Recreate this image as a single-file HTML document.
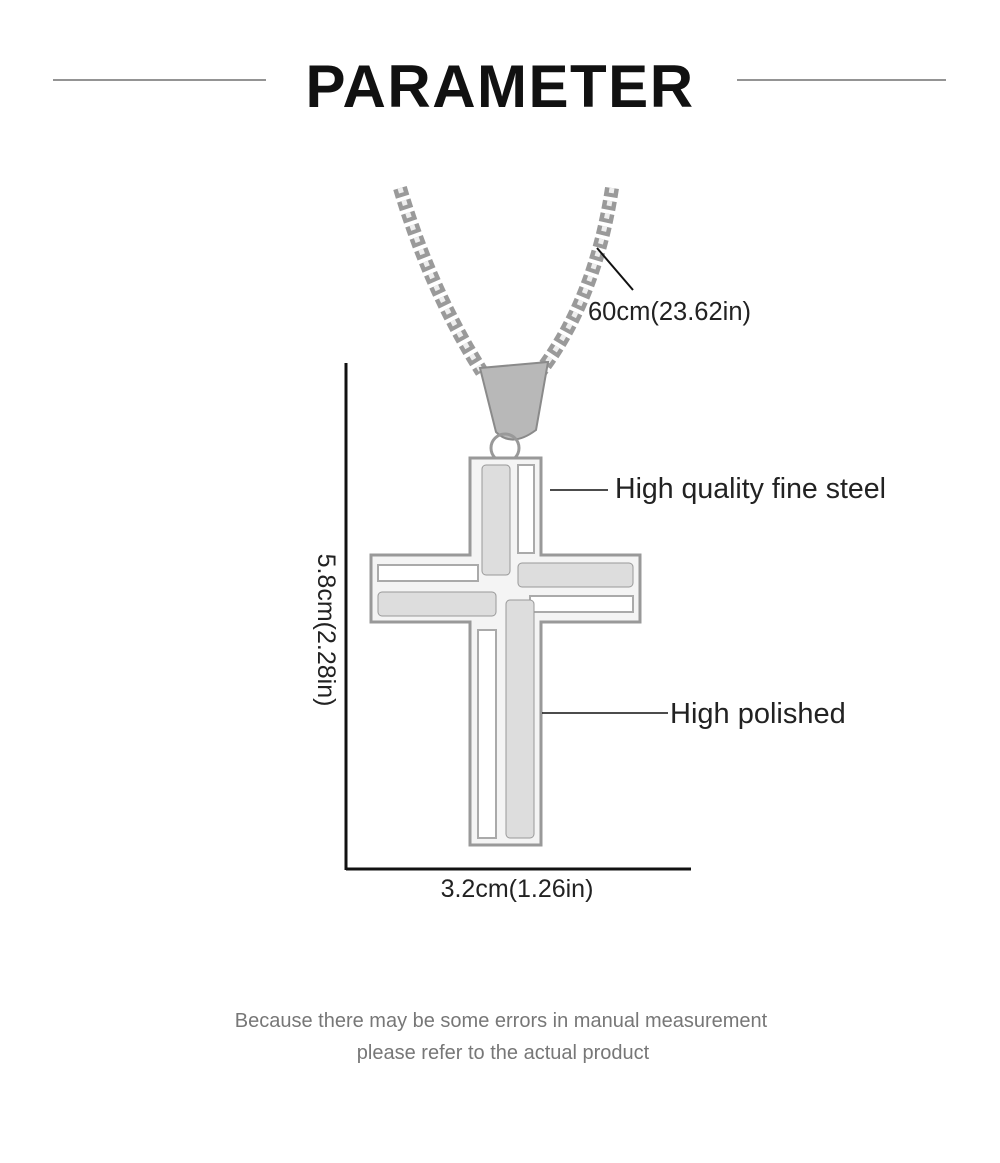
<!DOCTYPE html>
<html><head><style>
body{margin:0;background:#fff;width:1000px;height:1158px;overflow:hidden;font-family:"Liberation Sans",sans-serif;}
</style></head><body>
<svg width="1000" height="1158" viewBox="0 0 1000 1158">
<line x1="53" y1="80" x2="266" y2="80" stroke="#555" stroke-width="1.3"/>
<line x1="737" y1="80" x2="946" y2="80" stroke="#555" stroke-width="1.3"/>
<text x="500" y="107" text-anchor="middle" font-size="60" font-weight="bold" letter-spacing="1.5" fill="#111">PARAMETER</text>
<!-- chain -->
<g stroke="#9a9a9a" stroke-width="14" stroke-dasharray="9 4" fill="none">
<path d="M400 188 Q430 290 482 372"/>
<path d="M612 188 Q595 300 540 372"/>
</g>
<g stroke="#eee" stroke-width="5" stroke-dasharray="5 8" fill="none">
<path d="M400 188 Q430 290 482 372"/>
<path d="M612 188 Q595 300 540 372"/>
</g>
<!-- bail -->
<path d="M480 368 L548 362 L536 430 Q512 448 496 432 Z" fill="#b8b8b8" stroke="#8a8a8a" stroke-width="2"/>
<circle cx="505" cy="448" r="14" fill="none" stroke="#999" stroke-width="3"/>
<!-- cross -->
<path d="M470 458 H541 V555 H640 V622 H541 V845 H470 V622 H371 V555 H470 Z" fill="#f4f4f4" stroke="#999" stroke-width="3"/>
<rect x="518" y="465" width="16" height="88" fill="#fff" stroke="#aaa" stroke-width="2"/>
<rect x="378" y="565" width="100" height="16" fill="#fff" stroke="#aaa" stroke-width="2"/>
<rect x="530" y="596" width="103" height="16" fill="#fff" stroke="#aaa" stroke-width="2"/>
<rect x="478" y="630" width="18" height="208" fill="#fff" stroke="#aaa" stroke-width="2"/>
<g fill="#ddd" stroke="#999" stroke-width="1">
<rect x="482" y="465" width="28" height="110" rx="4"/>
<rect x="378" y="592" width="118" height="24" rx="4"/>
<rect x="518" y="563" width="115" height="24" rx="4"/>
<rect x="506" y="600" width="28" height="238" rx="4"/>
</g>
<!-- dimension lines -->
<line x1="346" y1="363" x2="346" y2="870" stroke="#111" stroke-width="3"/>
<line x1="346" y1="869" x2="691" y2="869" stroke="#111" stroke-width="3"/>
<line x1="597" y1="248" x2="633" y2="290" stroke="#111" stroke-width="2"/>
<line x1="550" y1="490" x2="608" y2="490" stroke="#111" stroke-width="1.5"/>
<line x1="542" y1="713" x2="668" y2="713" stroke="#111" stroke-width="1.5"/>
<g fill="#222" font-size="25.5">
<text x="588" y="320">60cm(23.62in)</text>
<text x="615" y="498" font-size="28.5">High quality fine steel</text>
<text x="670" y="723" font-size="29">High polished</text>
<text x="517" y="897" text-anchor="middle" font-size="25">3.2cm(1.26in)</text>
<text transform="translate(318,630) rotate(90)" text-anchor="middle" font-size="25">5.8cm(2.28in)</text>
</g>
<g fill="#777" font-size="20" text-anchor="middle">
<text x="501" y="1027">Because there may be some errors in manual measurement</text>
<text x="503" y="1059">please refer to the actual product</text>
</g>
</svg>
</body></html>
